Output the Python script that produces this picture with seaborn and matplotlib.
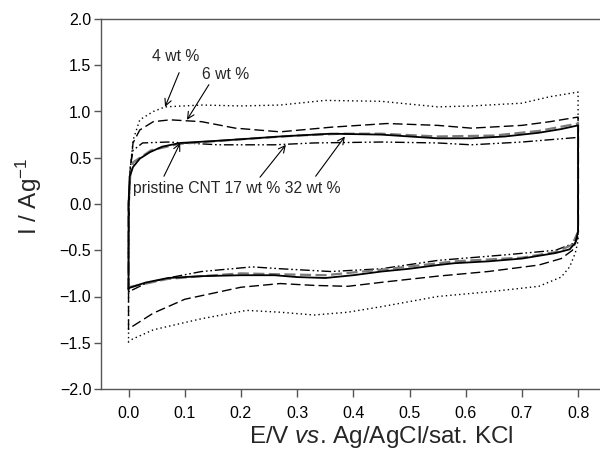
import matplotlib
matplotlib.use("Agg")
import matplotlib.pyplot as plt
import seaborn as sns
import pandas as pd

# ---- data (closed CV loops: anodic branch 0->0.8 V, then cathodic branch 0.8->0 V) ----
pristine_x = [0.0, 0.0, 0.002, 0.008, 0.02, 0.038, 0.06, 0.092, 0.15, 0.2, 0.27, 0.36, 0.45, 0.55, 0.61, 0.67, 0.73, 0.77, 0.8,
              0.8, 0.795, 0.785, 0.76, 0.70, 0.64, 0.58, 0.55, 0.5, 0.45, 0.4, 0.35, 0.3, 0.26, 0.2, 0.13, 0.07, 0.03, 0.0]
pristine_y = [-0.93, 0.0, 0.3, 0.40, 0.49, 0.56, 0.62, 0.66, 0.68, 0.70, 0.73, 0.76, 0.75, 0.71, 0.71, 0.73, 0.77, 0.81, 0.85,
              -0.30, -0.42, -0.49, -0.53, -0.59, -0.62, -0.64, -0.66, -0.70, -0.73, -0.77, -0.80, -0.79, -0.77, -0.77, -0.78, -0.80, -0.85, -0.91]

wt4_x = [0.0, 0.0, 0.002, 0.008, 0.02, 0.044, 0.065, 0.13, 0.2, 0.27, 0.35, 0.45, 0.55, 0.61, 0.70, 0.75, 0.8,
         0.8, 0.795, 0.785, 0.77, 0.73, 0.64, 0.55, 0.45, 0.39, 0.33, 0.27, 0.21, 0.13, 0.044, 0.0]
wt4_y = [-1.50, -0.5, 0.3, 0.69, 0.91, 1.00, 1.05, 1.07, 1.06, 1.07, 1.12, 1.11, 1.05, 1.06, 1.09, 1.16, 1.21,
         -0.40, -0.53, -0.68, -0.79, -0.89, -0.95, -1.00, -1.11, -1.17, -1.20, -1.17, -1.15, -1.24, -1.36, -1.48]

wt6_x = [0.0, 0.0, 0.002, 0.008, 0.02, 0.044, 0.074, 0.13, 0.19, 0.27, 0.36, 0.46, 0.55, 0.61, 0.70, 0.75, 0.8,
         0.8, 0.79, 0.77, 0.73, 0.64, 0.55, 0.46, 0.39, 0.33, 0.27, 0.2, 0.10, 0.044, 0.0]
wt6_y = [-1.36, -0.5, 0.3, 0.66, 0.80, 0.89, 0.91, 0.89, 0.82, 0.78, 0.83, 0.87, 0.85, 0.82, 0.85, 0.89, 0.94,
         -0.35, -0.50, -0.59, -0.66, -0.73, -0.78, -0.84, -0.89, -0.88, -0.86, -0.90, -1.03, -1.18, -1.35]

wt17_x = [0.0, 0.0, 0.003, 0.008, 0.025, 0.07, 0.16, 0.26, 0.33, 0.45, 0.55, 0.61, 0.70, 0.8,
          0.8, 0.79, 0.76, 0.67, 0.55, 0.45, 0.36, 0.27, 0.22, 0.13, 0.07, 0.03, 0.0]
wt17_y = [-0.95, -0.3, 0.4, 0.58, 0.66, 0.67, 0.64, 0.64, 0.66, 0.67, 0.66, 0.64, 0.67, 0.72,
          -0.30, -0.43, -0.50, -0.55, -0.61, -0.70, -0.73, -0.70, -0.68, -0.73, -0.80, -0.86, -0.95]

wt32_x = [0.0, 0.0, 0.003, 0.008, 0.04, 0.09, 0.2, 0.3, 0.38, 0.45, 0.55, 0.65, 0.73, 0.8,
          0.8, 0.79, 0.76, 0.70, 0.58, 0.45, 0.35, 0.27, 0.2, 0.13, 0.07, 0.0]
wt32_y = [-0.92, 0.0, 0.3, 0.45, 0.58, 0.65, 0.70, 0.74, 0.76, 0.76, 0.73, 0.74, 0.79, 0.87,
          -0.30, -0.44, -0.52, -0.58, -0.62, -0.71, -0.77, -0.76, -0.75, -0.78, -0.81, -0.90]

x_ticks = [0.0, 0.1, 0.2, 0.3, 0.4, 0.5, 0.6, 0.7, 0.8]
y_ticks = [-2.0, -1.5, -1.0, -0.5, 0.0, 0.5, 1.0, 1.5, 2.0]

# ---- style ----
sns.set_style("ticks")
plt.rcParams['font.family'] = ['Liberation Sans', 'DejaVu Sans']
plt.rcParams['mathtext.fontset'] = 'custom'
plt.rcParams['mathtext.rm'] = 'Liberation Sans'
plt.rcParams['mathtext.it'] = 'Liberation Sans:italic'
plt.rcParams['mathtext.bf'] = 'Liberation Sans:bold'

fig = plt.figure(figsize=(6.0, 4.53), dpi=100)
ax = fig.add_axes([101/600, 1 - 389/453, 1 - 101/600, (389 - 19)/453])

curves = [
    (wt4_x, wt4_y, dict(color='black', lw=1.0, linestyle=(0, (1, 2.2)))),
    (wt6_x, wt6_y, dict(color='black', lw=1.0, linestyle=(0, (7, 3)))),
    (wt17_x, wt17_y, dict(color='black', lw=1.0, linestyle=(0, (7, 2, 1.2, 2, 1.2, 2)))),
    (wt32_x, wt32_y, dict(color='#7a7a7a', lw=1.6, linestyle=(0, (5, 2)))),
    (pristine_x, pristine_y, dict(color='black', lw=1.3, linestyle='-')),
]
for xs, ys, kw in curves:
    df = pd.DataFrame({'E': xs, 'I': ys})
    sns.lineplot(data=df, x='E', y='I', sort=False, estimator=None, ax=ax, **kw)

ax.set_xlim(-0.049, 0.839)
ax.set_ylim(-2.0, 2.0)
ax.set_xticks(x_ticks)
ax.set_xticklabels([f"{v:.1f}" for v in x_ticks])
ax.set_yticks(y_ticks)
ax.set_yticklabels([f"{v:.1f}".replace('-', '\u2212') for v in y_ticks])

for s in ['left', 'bottom', 'top']:
    ax.spines[s].set_color('#555555')
    ax.spines[s].set_linewidth(1.0)
ax.spines['right'].set_visible(False)
ax.tick_params(axis='both', colors='#555555', labelcolor='black', labelsize=11.5, width=1.0)
ax.tick_params(axis='x', length=6, pad=6)
ax.tick_params(axis='y', length=5, pad=2)

ax.set_xlabel(r"E/V $\mathit{vs}$. Ag/AgCl/sat. KCl", fontsize=17.5)
ax.xaxis.set_label_coords((381 - 101) / 499, -0.094)
ax.set_ylabel(r"I / Ag$^{-1}$", fontsize=17.5)
ax.yaxis.set_label_coords(-0.114, 0.52)

fs = 11.3
ax.text(0.041, 1.59, "4 wt %", fontsize=fs, ha='left', va='center')
ax.text(0.13, 1.405, "6 wt %", fontsize=fs, ha='left', va='center')
ax.text(0.008, 0.17, "pristine CNT 17 wt % 32 wt %", fontsize=fs, ha='left', va='center')

arrows = [
    ((0.065, 1.05), (0.09, 1.42)),
    ((0.104, 0.91), (0.143, 1.29)),
    ((0.092, 0.66), (0.063, 0.30)),
    ((0.28, 0.64), (0.234, 0.29)),
    ((0.385, 0.73), (0.333, 0.30)),
]
for tip, tail in arrows:
    ax.annotate("", xy=tip, xytext=tail,
                arrowprops=dict(arrowstyle='->', lw=0.8, color='black',
                                shrinkA=0, shrinkB=0, mutation_scale=12))

fig.savefig("out.png", dpi=100)
